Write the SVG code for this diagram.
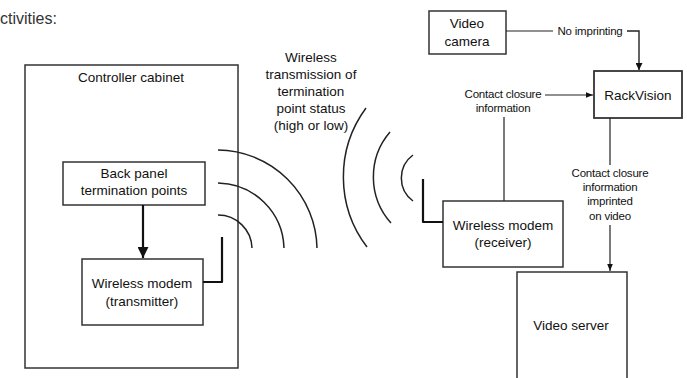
<svg xmlns="http://www.w3.org/2000/svg" width="687" height="378" viewBox="0 0 687 378">
<style>
text{font-family:"Liberation Sans",Arial,sans-serif;fill:#111;text-anchor:middle}
.t13{font-size:13.5px}
.t11{font-size:11.5px;letter-spacing:-0.2px}
.box{fill:#fff;stroke:#333;stroke-width:1.5}
.ln{fill:none;stroke:#222;stroke-width:1.2}
.thick{fill:none;stroke:#111;stroke-width:2.2;stroke-linejoin:round}
.arc{fill:none;stroke:#222;stroke-width:1.5}
</style>
<defs>
<marker id="ah" viewBox="0 0 10 10" refX="10" refY="5" markerWidth="5" markerHeight="5" orient="auto" markerUnits="strokeWidth"><path d="M0,0 L10,5 L0,10 z" fill="#111"/></marker>
<marker id="ahs" viewBox="0 0 10 10" refX="10" refY="5" markerWidth="6" markerHeight="6" orient="auto" markerUnits="strokeWidth"><path d="M0,1 L10,5 L0,9 z" fill="#111"/></marker>
</defs>
<rect width="687" height="378" fill="#fff"/>
<text x="0" y="24" style="font-size:16px;text-anchor:start;fill:#333">ctivities:</text>

<g id="controller-cabinet">
<rect class="box" x="25" y="65" width="213" height="303"/>
<text class="t13" x="131" y="82">Controller cabinet</text>
</g>
<g id="back-panel">
<rect class="box" x="63" y="162" width="142" height="43"/>
<text class="t13" x="134" y="178">Back panel</text>
<text class="t13" x="134" y="195">termination points</text>
</g>
<g id="transmitter">
<rect class="box" x="82" y="259" width="121" height="66"/>
<text class="t13" x="142" y="288">Wireless modem</text>
<text class="t13" x="142" y="306">(transmitter)</text>
</g>
<g id="video-camera">
<rect class="box" x="429" y="11" width="77" height="43"/>
<text class="t13" x="467" y="28">Video</text>
<text class="t13" x="467" y="46">camera</text>
</g>
<g id="rackvision">
<rect class="box" x="594" y="71" width="88" height="47" style="stroke-width:1.8"/>
<text class="t13" x="638" y="100">RackVision</text>
</g>
<g id="receiver">
<rect class="box" x="443" y="201" width="120" height="66"/>
<text class="t13" x="503" y="230">Wireless modem</text>
<text class="t13" x="503" y="247">(receiver)</text>
</g>
<g id="video-server">
<rect class="box" x="517" y="272" width="110" height="120"/>
<text class="t13" x="571" y="330">Video server</text>
</g>

<g id="wireless-label">
<text class="t13" x="311" y="62">Wireless</text>
<text class="t13" x="311" y="79">transmission of</text>
<text class="t13" x="311" y="96">termination</text>
<text class="t13" x="311" y="113">point status</text>
<text class="t13" x="311" y="130">(high or low)</text>
</g>

<g id="connectors">
<line class="thick" x1="143" y1="205" x2="143" y2="258" marker-end="url(#ah)"/>
<path class="thick" d="M203,282 H222 V237"/>
<path class="thick" d="M443,222 H423 V179"/>
<path class="arc" d="M218,150 A100,100 0 0 1 317,248"/>
<path class="arc" d="M218,183 A67,67 0 0 1 284,248"/>
<path class="arc" d="M218,215 A34,34 0 0 1 252,248"/>
<path class="arc" d="M366,108 A116,116 0 0 0 367,247"/>
<path class="arc" d="M390,132 A69,69 0 0 0 391,223"/>
<path class="arc" d="M413,155 A28.5,28.5 0 0 0 413,201"/>
<path class="ln" d="M506,31 H553"/>
<text class="t11" x="590" y="35">No imprinting</text>
<path class="ln" d="M627,31 H639 V70" style="stroke-width:1.4" marker-end="url(#ah)"/>
<text class="t11" x="503" y="98">Contact closure</text>
<text class="t11" x="503" y="112">information</text>
<line class="ln" x1="545" y1="95" x2="593" y2="95" marker-end="url(#ahs)"/>
<line class="ln" x1="504" y1="117" x2="504" y2="201"/>
<line class="ln" x1="610" y1="118" x2="610" y2="165"/>
<text class="t11" x="610" y="177">Contact closure</text>
<text class="t11" x="610" y="191">information</text>
<text class="t11" x="610" y="205">imprinted</text>
<text class="t11" x="610" y="220">on video</text>
<line class="ln" x1="610" y1="225" x2="610" y2="271" marker-end="url(#ahs)"/>
</g>
</svg>
